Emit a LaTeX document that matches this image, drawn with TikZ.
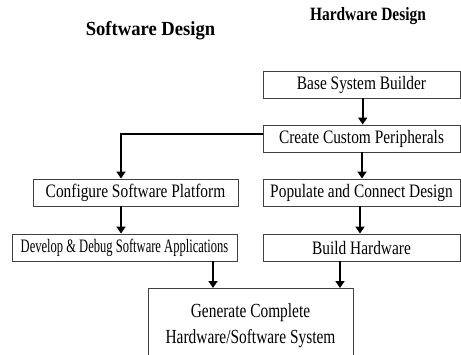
\documentclass[tikz,border=0pt]{standalone}
\usepackage{fontspec}
\setmainfont{Liberation Serif}
\usepackage{graphicx}
\usetikzlibrary{arrows.meta}
\newcommand\sx[1]{\scalebox{0.81}[1]{#1}}
\tikzset{
  stepbox/.style={draw=black!75, line width=0.9pt, fill=white, minimum height=27pt, inner sep=0pt,
    font=\fontsize{19}{22}\selectfont},
  arr/.style={line width=2.2pt, -{Triangle[length=7pt,width=9pt]}},
  ttl/.style={font=\bfseries, inner sep=0pt}
}
\begin{document}
\begin{tikzpicture}[x=1pt,y=-1pt]
\useasboundingbox (0,0) rectangle (461,354);
\clip (0,0) rectangle (461,354);
\node[ttl, font=\fontsize{20}{24}\bfseries\selectfont] (sw) at (150.5,31) {\scalebox{0.93}[1]{Software Design}};
\node[ttl, font=\fontsize{18.8}{22}\bfseries\selectfont] (hw) at (368,16) {\scalebox{0.82}[1]{Hardware Design}};

\node[stepbox, minimum width=197pt] (base) at (361.5,84.5) {\sx{Base System Builder}};
\node[stepbox, minimum width=197pt] (create) at (361.5,138.5) {\sx{Create Custom Peripherals}};
\node[stepbox, minimum width=197pt] (populate) at (361.5,192.5) {\sx{Populate and Connect Design}};
\node[stepbox, minimum width=197pt] (build) at (361.5,247.5) {\sx{Build Hardware}};
\node[stepbox, minimum width=205pt] (config) at (135.5,192.5) {\sx{Configure Software Platform}};
\node[stepbox, minimum width=225pt] (develop) at (124.5,247.5) {\scalebox{0.66}[1]{Develop \& Debug Software Applications}};
\node[stepbox, minimum width=205pt, anchor=north, align=center, inner ysep=15pt, text depth=40pt,
  font=\fontsize{20}{26}\selectfont] (gen) at (250.5,288)
  {\scalebox{0.77}[1]{Generate Complete}\\\scalebox{0.77}[1]{Hardware/Software System}};

\coordinate (xa) at (362.7,0);
\coordinate (xb) at (362,0);
\coordinate (xc) at (360,0);
\coordinate (xl) at (121,0);
\coordinate (xd) at (213,0);
\coordinate (xe) at (340,0);
\coordinate (yc) at (0,134);

\draw[arr] (xa |- base.south) -- (xa |- create.north);
\draw[arr] (xb |- create.south) -- (xb |- populate.north);
\draw[arr] (xc |- populate.south) -- (xc |- build.north);
\draw[arr] (create.west |- yc) -| (xl |- config.north);
\draw[arr] (xl |- config.south) -- (xl |- develop.north);
\draw[arr] (xd |- develop.south) -- (xd |- gen.north);
\draw[arr] (xe |- build.south) -- (xe |- gen.north);
\end{tikzpicture}
\end{document}
